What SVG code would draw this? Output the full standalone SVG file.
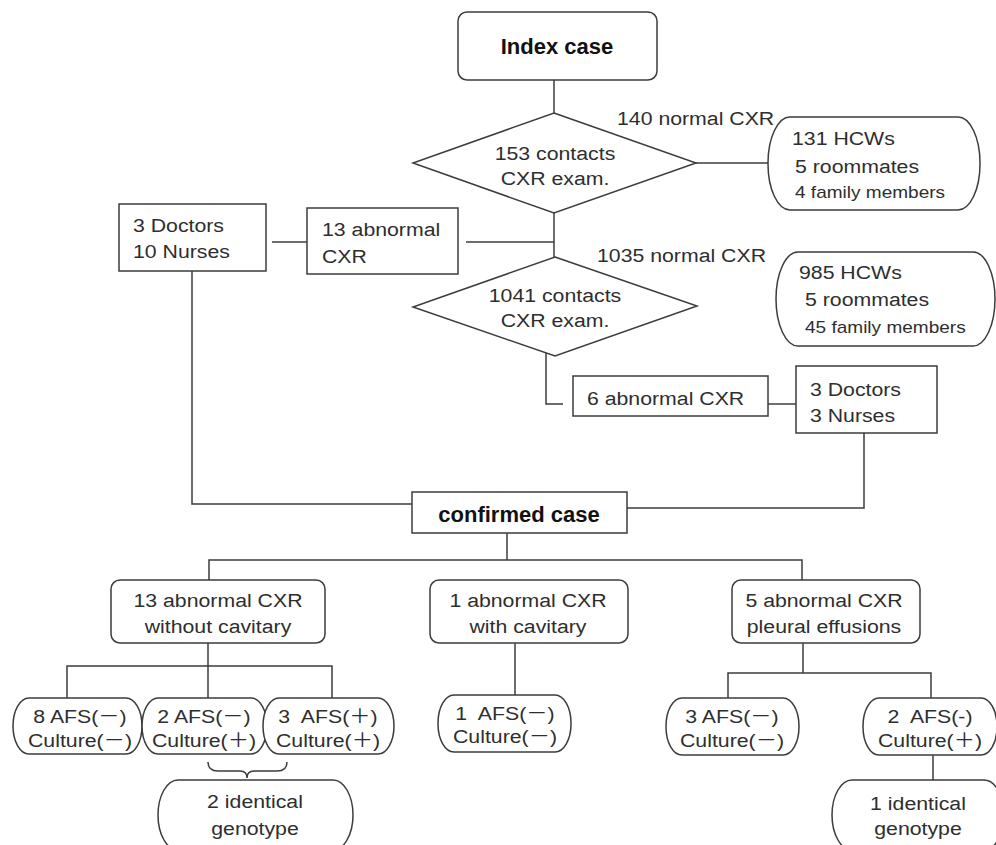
<svg xmlns="http://www.w3.org/2000/svg" width="996" height="845" viewBox="0 0 996 845">
<style>
text{font-family:"Liberation Sans","Noto Sans CJK SC",Arial,sans-serif;font-size:19px;fill:#2e2e2e;white-space:pre}
.c{text-anchor:middle;transform-box:fill-box;transform-origin:center;transform:scaleX(1.12)}
.l{transform-box:fill-box;transform-origin:left center;transform:scaleX(1.12)}
.b{font-weight:bold;font-size:22px;fill:#111;text-anchor:middle}
.s{font-size:17px}
.a{font-size:19px}
.box{fill:#fff;stroke:#3c3c3c;stroke-width:1.5}
.ln{fill:none;stroke:#3c3c3c;stroke-width:1.5}
</style>
<rect width="996" height="845" fill="#fff"/>
<g id="connectors" class="ln">
<path d="M554,80V113"/>
<path d="M696,163H768"/>
<path d="M554,213V257"/>
<path d="M466,242H554"/>
<path d="M272,242H307"/>
<path d="M192,271V504H412"/>
<path d="M546,353V404H563"/>
<path d="M768,404H796"/>
<path d="M864,433V508H627"/>
<path d="M507,533V560"/>
<path d="M209,580V560H802V580"/>
<path d="M208,643V698"/>
<path d="M67,698V666H332V698"/>
<path d="M515,643V695"/>
<path d="M803,643V673"/>
<path d="M728,698V673H931V698"/>
<path d="M933,755V780"/>
<path d="M208,762Q208,771 218,771H240Q247,771 247,778Q247,771 254,771H277Q287,771 287,762"/>
</g>
<g id="index-case">
<rect class="box" x="458" y="12" width="199" height="68" rx="9"/>
<text class="b" x="557" y="54">Index case</text>
</g>
<g id="contacts-153">
<polygon class="box" points="554,113 696,163 554,213 413,163"/>
<text class="c" x="555" y="160">153 contacts</text>
<text class="c" x="555" y="185">CXR exam.</text>
</g>
<g id="normal-140">
<text class="l" x="617" y="125">140 normal CXR</text>
</g>
<g id="hcw-131">
<rect class="box" x="768" y="117" width="212" height="93" rx="22" ry="46"/>
<text class="l" x="792" y="145">131 HCWs</text>
<text class="l" x="795" y="173">5 roommates</text>
<text class="l s" x="795" y="198">4 family members</text>
</g>
<g id="staff-1">
<rect class="box" x="119" y="204" width="147" height="67"/>
<text class="l" x="133" y="232">3 Doctors</text>
<text class="l" x="133" y="258">10 Nurses</text>
</g>
<g id="abnormal-13">
<rect class="box" x="307" y="208" width="151" height="66"/>
<text class="l" x="322" y="236">13 abnormal</text>
<text class="l" x="322" y="263">CXR</text>
</g>
<g id="contacts-1041">
<polygon class="box" points="555,257 697,306 555,356 413,307"/>
<text class="c" x="555" y="302">1041 contacts</text>
<text class="c" x="555" y="327">CXR exam.</text>
</g>
<g id="normal-1035">
<text class="l" x="597" y="262">1035 normal CXR</text>
</g>
<g id="hcw-985">
<rect class="box" x="776" y="252" width="219" height="94" rx="22" ry="47"/>
<text class="l" x="799" y="279">985 HCWs</text>
<text class="l" x="805" y="306">5 roommates</text>
<text class="l s" x="805" y="333">45 family members</text>
</g>
<g id="abnormal-6">
<rect class="box" x="573" y="376" width="195" height="40"/>
<text class="l" x="587" y="405">6 abnormal CXR</text>
</g>
<g id="staff-2">
<rect class="box" x="796" y="366" width="141" height="67"/>
<text class="l" x="810" y="396">3 Doctors</text>
<text class="l" x="810" y="422">3 Nurses</text>
</g>
<g id="confirmed-case">
<rect class="box" x="412" y="492" width="215" height="41"/>
<text class="b" x="519" y="522">confirmed case</text>
</g>
<g id="without-cavitary">
<rect class="box" x="111" y="580" width="214" height="63" rx="9"/>
<text class="c" x="218" y="607">13 abnormal CXR</text>
<text class="c" x="218" y="633">without cavitary</text>
</g>
<g id="with-cavitary">
<rect class="box" x="430" y="580" width="198" height="63" rx="9"/>
<text class="c" x="528" y="607">1 abnormal CXR</text>
<text class="c" x="528" y="633">with cavitary</text>
</g>
<g id="pleural-effusions">
<rect class="box" x="732" y="580" width="188" height="63" rx="9"/>
<text class="c" x="824" y="607">5 abnormal CXR</text>
<text class="c" x="824" y="633">pleural effusions</text>
</g>
<g id="afs-8">
<rect class="box" x="13" y="698" width="129" height="56" rx="16" ry="28"/>
<text class="c a" x="80" y="723">8 AFS(－)</text>
<text class="c a" x="80" y="747">Culture(－)</text>
</g>
<g id="afs-2">
<rect class="box" x="142" y="698" width="125" height="56" rx="16" ry="28"/>
<text class="c a" x="204" y="723">2 AFS(－)</text>
<text class="c a" x="204" y="747">Culture(＋)</text>
</g>
<g id="afs-3">
<rect class="box" x="263" y="698" width="131" height="56" rx="16" ry="28"/>
<text class="c a" x="328" y="723">3  AFS(＋)</text>
<text class="c a" x="328" y="747">Culture(＋)</text>
</g>
<g id="afs-1">
<rect class="box" x="438" y="695" width="133" height="57" rx="16" ry="28"/>
<text class="c a" x="505" y="720">1  AFS(－)</text>
<text class="c a" x="505" y="743">Culture(－)</text>
</g>
<g id="afs-3b">
<rect class="box" x="666" y="698" width="133" height="57" rx="16" ry="28"/>
<text class="c a" x="732" y="723">3 AFS(－)</text>
<text class="c a" x="732" y="747">Culture(－)</text>
</g>
<g id="afs-2b">
<rect class="box" x="863" y="698" width="134" height="57" rx="16" ry="28"/>
<text class="c a" x="930" y="723">2  AFS(-)</text>
<text class="c a" x="930" y="747">Culture(＋)</text>
</g>
<g id="genotype-2">
<rect class="box" x="158" y="780" width="195" height="70" rx="20" ry="35"/>
<text class="c" x="255" y="808">2 identical</text>
<text class="c" x="255" y="835">genotype</text>
</g>
<g id="genotype-1">
<rect class="box" x="832" y="780" width="172" height="70" rx="20" ry="35"/>
<text class="c" x="918" y="810">1 identical</text>
<text class="c" x="918" y="835">genotype</text>
</g>
</svg>
